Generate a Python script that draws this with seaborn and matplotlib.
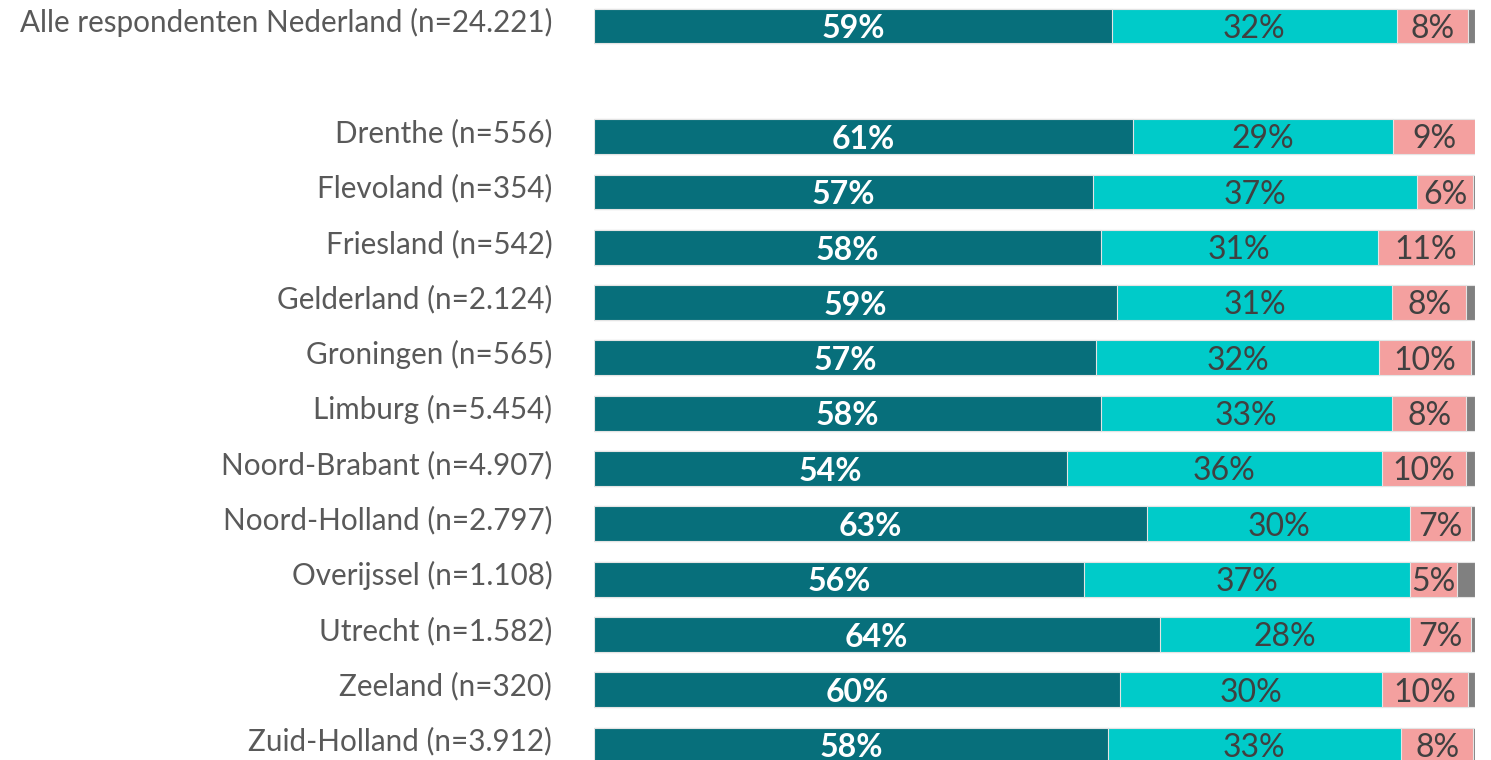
import matplotlib
matplotlib.use('Agg')
import matplotlib.pyplot as plt
import matplotlib.transforms as mtransforms
import seaborn as sns
import pandas as pd
import numpy as np

# data (percentages per segment)
labels = ['Alle respondenten Nederland (n=24.221)', 'Drenthe (n=556)', 'Flevoland (n=354)',
          'Friesland (n=542)', 'Gelderland (n=2.124)', 'Groningen (n=565)', 'Limburg (n=5.454)',
          'Noord-Brabant (n=4.907)', 'Noord-Holland (n=2.797)', 'Overijssel (n=1.108)',
          'Utrecht (n=1.582)', 'Zeeland (n=320)', 'Zuid-Holland (n=3.912)']
seg_dark = [58.8, 61.2, 56.6, 57.5, 59.4, 57.0, 57.5, 53.7, 62.8, 55.6, 64.2, 59.7, 58.3]
seg_cyan = [32.3, 29.5, 36.8, 31.5, 31.2, 32.1, 33.1, 35.7, 29.8, 37.0, 28.4, 29.7, 33.3]
seg_pink = [8.1, 9.3, 6.4, 10.8, 8.4, 10.4, 8.4, 9.6, 6.9, 5.4, 7.0, 9.8, 8.2]
seg_gray = [0.8, 0.0, 0.2, 0.2, 1.0, 0.5, 1.0, 1.0, 0.5, 2.0, 0.4, 0.8, 0.2]
label_dark = ['59%', '61%', '57%', '58%', '59%', '57%', '58%', '54%', '63%', '56%', '64%', '60%', '58%']
label_cyan = ['32%', '29%', '37%', '31%', '31%', '32%', '33%', '36%', '30%', '37%', '28%', '30%', '33%']
label_pink = ['8%', '9%', '6%', '11%', '8%', '10%', '8%', '10%', '7%', '5%', '7%', '10%', '8%']

df = pd.DataFrame({'label': labels, 'dark': seg_dark, 'cyan': seg_cyan,
                   'pink': seg_pink, 'gray': seg_gray})
df['c_dark'] = df['dark']
df['c_cyan'] = df['c_dark'] + df['cyan']
df['c_pink'] = df['c_cyan'] + df['pink']
df['c_gray'] = df['c_pink'] + df['gray']

# empty slot between the total row and the provinces
order = [labels[0], ''] + labels[1:]

sns.set_style('white')
plt.rcParams['font.family'] = ['Lato', 'DejaVu Sans']

fig = plt.figure(figsize=(14.91, 7.6), dpi=100)
ax = fig.add_axes([594 / 1491, 0, 881 / 1491, 1])

colors = {'c_gray': '#808080', 'c_pink': '#f4a09f', 'c_cyan': '#00cbc9', 'c_dark': '#076f7b'}
for col in ['c_gray', 'c_pink', 'c_cyan', 'c_dark']:
    sns.barplot(data=df, x=col, y='label', order=order, color=colors[col], width=0.63,
                edgecolor='#e4e4e4', linewidth=0.8, saturation=1, ax=ax)

# value labels
pos = {lab: i for i, lab in enumerate(order)}
for i, lab in enumerate(labels):
    y = pos[lab]
    ax.text(df['c_dark'][i] / 2, y + 0.05, label_dark[i], ha='center', va='center',
            color='white', fontsize=23, fontweight='bold')
    ax.text(df['c_dark'][i] + df['cyan'][i] / 2, y + 0.05, label_cyan[i], ha='center',
            va='center', color='#404040', fontsize=23)
    ax.text(df['c_cyan'][i] + df['pink'][i] / 2, y + 0.05, label_pink[i], ha='center',
            va='center', color='#404040', fontsize=23)

ax.set_xlim(0, 100)
ax.set_ylim(13.27, -0.47)
ax.set_xlabel('')
ax.set_ylabel('')
ax.set_xticks([])
ax.tick_params(axis='y', length=0, pad=30, labelsize=21.3, labelcolor='#595959')
sns.despine(ax=ax, left=True, bottom=True)

# category labels sit a little above the bar centre in the reference
shift = mtransforms.ScaledTranslation(0, 6 / 100, fig.dpi_scale_trans)
for t in ax.get_yticklabels():
    t.set_transform(t.get_transform() + shift)

plt.savefig('out.png', dpi=100)
